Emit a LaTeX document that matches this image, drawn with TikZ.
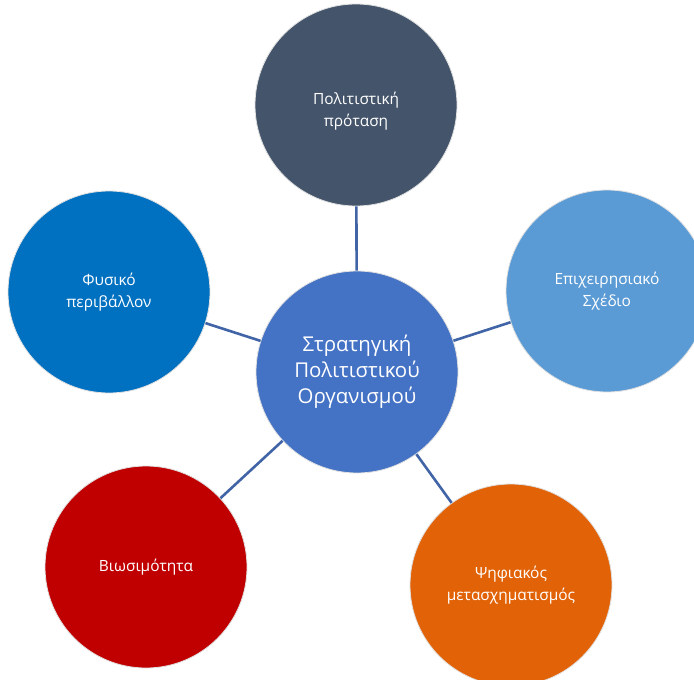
\documentclass[tikz,border=0pt]{standalone}
\usepackage{fontspec}
\setmainfont{Open Sans}
\definecolor{cTop}{HTML}{44546A}
\definecolor{cRight}{HTML}{5B9BD5}
\definecolor{cLeft}{HTML}{0070C0}
\definecolor{cCenter}{HTML}{4472C4}
\definecolor{cRed}{HTML}{C00000}
\definecolor{cOrange}{HTML}{E26207}
\definecolor{linkblue}{HTML}{4064A6}
\begin{document}
\begin{tikzpicture}[x=1bp,y=-1bp,
  bubble/.style={circle, minimum size=202bp, inner sep=0pt, draw=black!12,
    line width=0.8bp, text=white, align=center,
    font=\fontsize{15.5}{22}\selectfont},
  hub/.style={bubble, font=\fontsize{20.5}{26}\selectfont},
  link/.style={draw=linkblue, line width=2.6bp}]
\useasboundingbox (0,0) rectangle (694,680);
\node[hub, fill=cCenter] (c) at (357,372) {Στρατηγική\\Πολιτιστικού\\Οργανισμού};
\node[bubble, fill=cTop] (t) at (356,105)
  {\raisebox{-6bp}[\height][\depth]{\begin{tabular}{@{}c@{}}Πολιτιστική\\πρόταση\end{tabular}}};
\node[bubble, fill=cRight] (r) at (607,291) {Επιχειρησιακό\\Σχέδιο};
\node[bubble, fill=cLeft] (l) at (109,292) {Φυσικό\\περιβάλλον};
\node[bubble, fill=cRed] (bl) at (146,567) {Βιωσιμότητα};
\node[bubble, fill=cOrange] (br) at (511,585) {Ψηφιακός\\μετασχηματισμός};
\draw[link] (c) -- (t);
\draw[link] (c) -- (r);
\draw[link] (c) -- (l);
\draw[link] (c) -- (bl);
\draw[link] (c) -- (br);
\end{tikzpicture}
\end{document}
